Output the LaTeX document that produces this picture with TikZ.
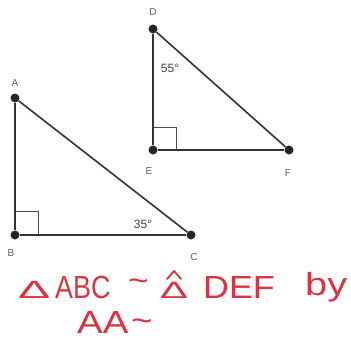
\documentclass[tikz,border=0pt]{standalone}
\usepackage{fontspec}
\setmainfont{Liberation Sans}
\definecolor{pen}{RGB}{218,52,66}
\definecolor{lbl}{RGB}{95,95,95}
\tikzset{
  dot/.style={circle, fill=black!85, inner sep=0pt, minimum size=9pt},
  side/.style={line width=1.6pt, black!80},
  tag/.style={text=lbl, font=\fontsize{10}{12}\selectfont},
  ink/.style={text=pen, font=\fontsize{32}{36}\selectfont, anchor=base west, inner sep=0pt}
}
\begin{document}
\begin{tikzpicture}[x=1pt, y=-1pt]
\useasboundingbox (0,0) rectangle (351,341);
\node[dot] (A) at (15,98) {};
\node[dot] (B) at (15,235) {};
\node[dot] (C) at (191,235) {};
\node[dot] (D) at (153,29) {};
\node[dot] (E) at (153,150) {};
\node[dot] (F) at (289,150) {};

\draw[thin, black!70] (15,211) -| (38,235);
\draw[thin, black!70] (153,127) -| (176,150);
\draw[side] (A) -- (B);
\draw[side] (B) -- (C);
\draw[side] (C) -- (A);
\draw[side] (D) -- (E);
\draw[side] (E) -- (F);
\draw[side] (F) -- (D);

\node[tag] (la) at (15,83) {A};
\node[tag] (lb) at (11,253) {B};
\node[tag] (lc) at (194,257) {C};
\node[tag] (ld) at (153,12) {D};
\node[tag] (le) at (149,171) {E};
\node[tag] (lf) at (288,173) {F};
\node[tag, text=black!75, font=\fontsize{12}{14}\selectfont] (a55) at (170,68) {55°};
\node[tag, text=black!75, font=\fontsize{12}{14}\selectfont] (a35) at (143,224) {35°};

% handwritten statement
\node[ink] (tri1) at (18,298) {\scalebox{1.5}[0.78]{Δ}};
\node[ink] (abc) at (55,298) {\scalebox{0.84}[1]{ABC}};
\node[ink] (sim1) at (128,298) {\raisebox{7pt}{\scalebox{1.1}[1]{\textasciitilde}}};
\node[ink] (tri2) at (160,298) {\scalebox{1.3}[0.74]{Δ}};
\draw[pen, line width=1.8pt, line cap=round, line join=round]
  (167,279) -- (174,271) -- (181,279);
\node[ink] (def) at (203,298) {\scalebox{1.12}[1]{DEF}};
\node[ink] (by) at (305,295) {\scalebox{1.24}[1]{by}};
\node[ink] (aa) at (77,333) {\scalebox{1.2}[1]{AA}};
\node[ink] (sim2) at (131,333) {\raisebox{2pt}{\scalebox{1.15}[1]{\textasciitilde}}};
\end{tikzpicture}
\end{document}
